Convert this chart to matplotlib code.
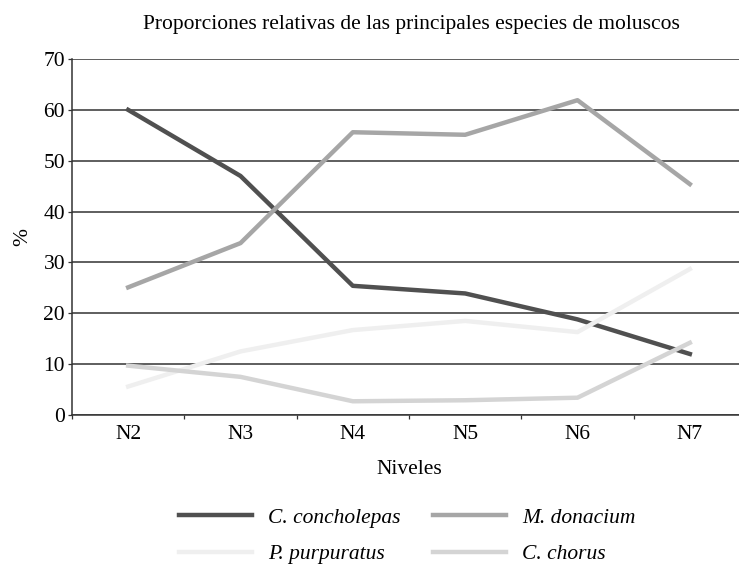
import matplotlib

matplotlib.use("Agg")
import matplotlib.pyplot as plt

plt.rcParams["font.family"] = ["Liberation Serif", "DejaVu Serif"]

levels = ["N2", "N3", "N4", "N5", "N6", "N7"]
concholepas = [60.0, 47.0, 25.4, 23.9, 18.8, 12.0]
donacium = [25.1, 33.8, 55.6, 55.1, 61.9, 45.4]
purpuratus = [5.6, 12.5, 16.7, 18.5, 16.3, 28.7]
chorus = [9.7, 7.5, 2.7, 2.9, 3.4, 14.2]
y_ticks = [0, 10, 20, 30, 40, 50, 60, 70]

FS = 15.5
fig = plt.figure(figsize=(7.39, 5.67), dpi=100)
ax = fig.add_axes([72 / 739, 152 / 567, 674 / 739, 356 / 567])

x = list(range(len(levels)))
l1, = ax.plot(x, concholepas, color="#505050", lw=3.2, label="C. concholepas", zorder=3)
l2, = ax.plot(x, donacium, color="#a6a6a6", lw=3.2, label="M. donacium", zorder=3)
l3, = ax.plot(x, purpuratus, color="#efefef", lw=3.2, label="P. purpuratus", zorder=3)
l4, = ax.plot(x, chorus, color="#d4d4d4", lw=3.2, label="C. chorus", zorder=3)

ax.set_xlim(-0.5, len(levels) - 0.5)
ax.set_ylim(0, 70)
ax.set_yticks(y_ticks)
ax.set_xticks(x)
ax.set_xticklabels(levels)
ax.set_xticks([i + 0.5 for i in range(-1, len(levels))], minor=True)
ax.tick_params(axis="x", which="major", length=0, labelsize=FS, pad=7)
ax.tick_params(axis="x", which="minor", length=3, width=0.9, direction="out", color="#333333")
ax.tick_params(axis="y", length=3, width=0.9, labelsize=FS, pad=2, color="#333333")
ax.yaxis.grid(True, color="#333333", lw=1.1)
ax.set_axisbelow(True)
for side in ["top", "right"]:
    ax.spines[side].set_visible(False)
for side in ["left", "bottom"]:
    ax.spines[side].set_linewidth(1.1)
    ax.spines[side].set_color("#333333")

ax.set_xlabel("Niveles", fontsize=FS, labelpad=12)
ax.set_ylabel("%", fontsize=FS, labelpad=8)
fig.text(0.557, 0.956, "Proporciones relativas de las principales especies de moluscos",
         ha="center", va="center", fontsize=FS)

# row-major order in the picture: concholepas, donacium / purpuratus, chorus
fig.legend([l1, l3, l2, l4], [l.get_label() for l in (l1, l3, l2, l4)],
           loc="center", bbox_to_anchor=(0.551, 0.0547), ncol=2, frameon=False,
           prop={"style": "italic", "size": FS}, handlelength=3.4,
           columnspacing=1.47, labelspacing=0.78, handletextpad=0.75)

fig.savefig("out.png", dpi=100)
